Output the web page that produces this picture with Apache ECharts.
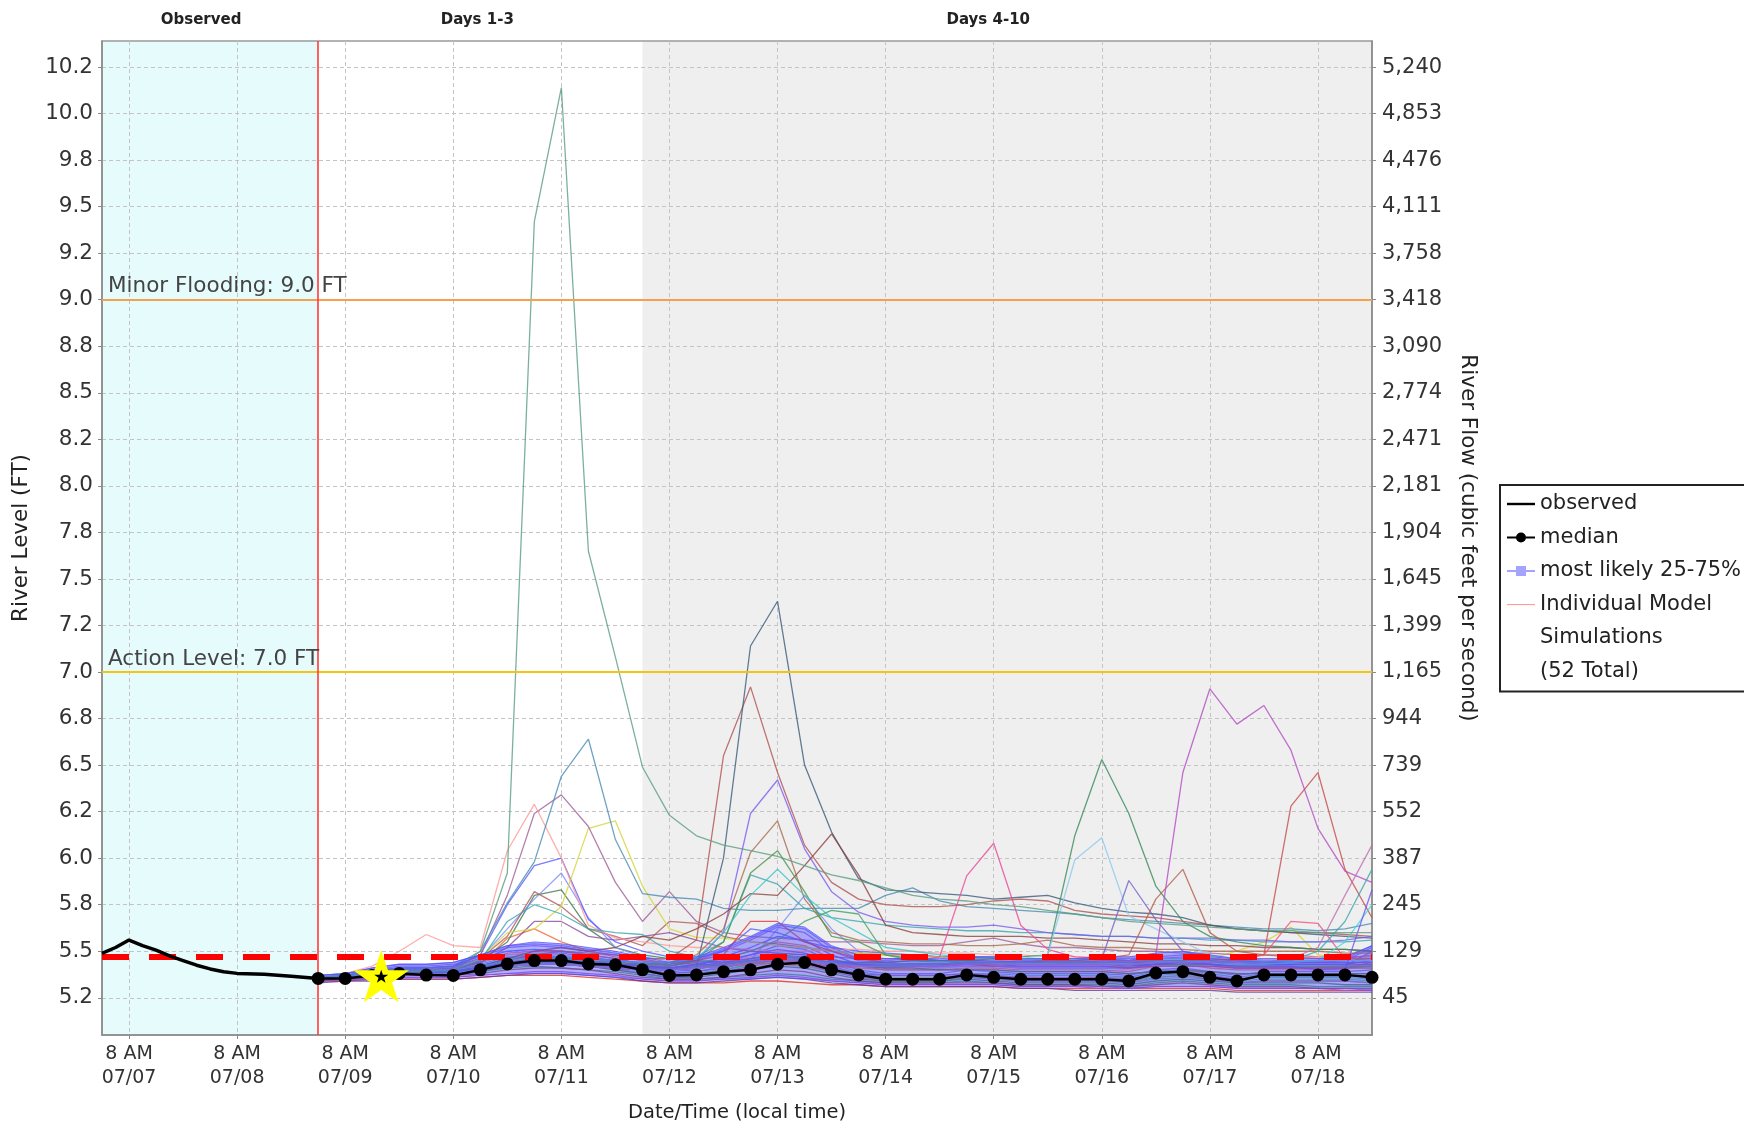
<!DOCTYPE html>
<html>
<head>
<meta charset="utf-8">
<title>River Level Ensemble Forecast</title>
<script src="https://cdn.jsdelivr.net/npm/echarts@6/dist/echarts.min.js"></script>
<style>
  html, body { margin: 0; padding: 0; background: #fff; }
  #main { width: 1744px; height: 1127px; }
</style>
</head>
<body>
<div id="main"></div>
<script>
// x values are hours since 07/07 00:00 local time
var xMin = 2, xMax = 284;
var xTicks = [8, 32, 56, 80, 104, 128, 152, 176, 200, 224, 248, 272];
var xTickLabels = ['8 AM\n07/07', '8 AM\n07/08', '8 AM\n07/09', '8 AM\n07/10', '8 AM\n07/11', '8 AM\n07/12',
                   '8 AM\n07/13', '8 AM\n07/14', '8 AM\n07/15', '8 AM\n07/16', '8 AM\n07/17', '8 AM\n07/18'];

// stage ticks (FT) and the matching flow labels (cfs) on the right
var yMin = 5.05, yMax = 10.39;
var levelTicks = [5.25, 5.5, 5.75, 6, 6.25, 6.5, 6.75, 7, 7.25, 7.5, 7.75, 8, 8.25, 8.5, 8.75, 9, 9.25, 9.5, 9.75, 10, 10.25];
var levelTickLabels = ['5.2', '5.5', '5.8', '6.0', '6.2', '6.5', '6.8', '7.0', '7.2', '7.5', '7.8', '8.0', '8.2', '8.5', '8.8', '9.0', '9.2', '9.5', '9.8', '10.0', '10.2'];
var flowTickLabels = ['45', '129', '245', '387', '552', '739', '944', '1,165', '1,399', '1,645', '1,904', '2,181', '2,471', '2,774', '3,090', '3,418', '3,758', '4,111', '4,476', '4,853', '5,240'];

// shaded periods
var regionStarts = [2, 50, 122];
var regionEnds = [50, 122, 284];
var regionLabels = ['Observed', 'Days 1-3', 'Days 4-10'];

var floodLevel = 9.0, actionLevel = 7.0, thresholdLevel = 5.468, forecastStart = 50;
var starPoint = [64, 5.365];

// observed stage
var obsHours = [2, 5, 8, 11, 14, 17, 20, 23, 26, 29, 32, 38, 44, 50];
var obsLevel = [5.488, 5.52, 5.56, 5.53, 5.506, 5.475, 5.45, 5.425, 5.405, 5.39, 5.381, 5.376, 5.366, 5.354];

// forecast times, 6-hourly from 07/09 02:00 to 07/18 20:00
var fcHours = [50, 56, 62, 68, 74, 80, 86, 92, 98, 104, 110, 116, 122, 128, 134, 140, 146, 152, 158, 164,
               170, 176, 182, 188, 194, 200, 206, 212, 218, 224, 230, 236, 242, 248, 254, 260, 266, 272, 278, 284];

var medianLevel = [5.354, 5.354, 5.37, 5.381, 5.372, 5.37, 5.40, 5.432, 5.45, 5.45,
                   5.432, 5.427, 5.40, 5.37, 5.373, 5.39, 5.40, 5.43, 5.44, 5.40,
                   5.373, 5.35, 5.35, 5.35, 5.373, 5.36, 5.35, 5.35, 5.35, 5.35,
                   5.34, 5.383, 5.39, 5.36, 5.34, 5.373, 5.373, 5.373, 5.373, 5.36];

var bandLow = [5.34, 5.35, 5.35, 5.36, 5.36, 5.36, 5.37, 5.38, 5.38, 5.38,
               5.37, 5.36, 5.35, 5.34, 5.34, 5.35, 5.35, 5.36, 5.35, 5.34,
               5.33, 5.32, 5.32, 5.32, 5.32, 5.32, 5.31, 5.31, 5.31, 5.31,
               5.30, 5.31, 5.31, 5.31, 5.30, 5.30, 5.30, 5.30, 5.30, 5.29];
var bandHigh = [5.37, 5.38, 5.41, 5.43, 5.43, 5.44, 5.48, 5.53, 5.55, 5.54,
                5.52, 5.50, 5.47, 5.44, 5.47, 5.52, 5.58, 5.65, 5.63, 5.53,
                5.48, 5.46, 5.46, 5.46, 5.47, 5.47, 5.46, 5.46, 5.46, 5.47,
                5.47, 5.49, 5.50, 5.48, 5.46, 5.46, 5.46, 5.46, 5.47, 5.53];

// individual model simulations (52)
var members = [
  // low members hugging the band
  [5.34,5.34,5.35,5.35,5.35,5.35,5.36,5.37,5.37,5.37, 5.36,5.35,5.34,5.33,5.33,5.33,5.34,5.34,5.33,5.32, 5.32,5.31,5.31,5.31,5.31,5.31,5.30,5.30,5.30,5.30, 5.30,5.30,5.30,5.30,5.29,5.29,5.29,5.29,5.29,5.29],
  [5.35,5.35,5.36,5.37,5.37,5.37,5.39,5.41,5.42,5.41, 5.40,5.39,5.37,5.35,5.35,5.36,5.37,5.38,5.37,5.35, 5.34,5.33,5.33,5.33,5.34,5.33,5.32,5.32,5.32,5.32, 5.31,5.33,5.34,5.33,5.32,5.32,5.32,5.31,5.31,5.31],
  [5.34,5.35,5.35,5.36,5.36,5.36,5.37,5.38,5.39,5.39, 5.38,5.37,5.35,5.34,5.34,5.35,5.36,5.37,5.36,5.34, 5.33,5.32,5.32,5.32,5.32,5.32,5.31,5.31,5.31,5.30, 5.30,5.31,5.31,5.31,5.30,5.30,5.30,5.30,5.29,5.29],
  [5.36,5.37,5.39,5.41,5.41,5.42,5.46,5.50,5.51,5.50, 5.48,5.46,5.43,5.40,5.42,5.47,5.52,5.58,5.56,5.48, 5.43,5.41,5.42,5.41,5.42,5.42,5.41,5.41,5.41,5.41, 5.41,5.43,5.44,5.43,5.41,5.41,5.41,5.41,5.42,5.50],
  [5.36,5.37,5.40,5.42,5.42,5.43,5.47,5.52,5.53,5.52, 5.50,5.48,5.45,5.42,5.45,5.50,5.56,5.63,5.60,5.50, 5.45,5.44,5.45,5.44,5.45,5.45,5.44,5.44,5.44,5.45, 5.45,5.46,5.47,5.46,5.45,5.44,5.44,5.44,5.45,5.52],
  [5.35,5.36,5.37,5.38,5.38,5.38,5.40,5.44,5.46,5.45, 5.42,5.40,5.38,5.36,5.37,5.39,5.41,5.43,5.42,5.39, 5.36,5.34,5.34,5.34,5.36,5.35,5.34,5.34,5.34,5.34, 5.33,5.36,5.37,5.35,5.33,5.34,5.34,5.34,5.34,5.33],
  [5.36,5.36,5.38,5.39,5.39,5.39,5.41,5.45,5.47,5.47, 5.45,5.43,5.40,5.37,5.38,5.40,5.43,5.46,5.45,5.41, 5.38,5.36,5.36,5.36,5.37,5.36,5.35,5.35,5.35,5.35, 5.34,5.37,5.38,5.36,5.35,5.36,5.36,5.36,5.36,5.35],
  [5.34,5.35,5.36,5.37,5.37,5.37,5.38,5.40,5.41,5.41, 5.40,5.38,5.36,5.35,5.35,5.36,5.38,5.40,5.39,5.36, 5.34,5.33,5.33,5.33,5.33,5.33,5.32,5.32,5.32,5.31, 5.31,5.32,5.33,5.32,5.31,5.31,5.31,5.30,5.30,5.30],
  [5.36,5.37,5.39,5.40,5.40,5.41,5.44,5.48,5.49,5.49, 5.47,5.45,5.42,5.39,5.40,5.44,5.48,5.53,5.51,5.45, 5.40,5.38,5.38,5.38,5.40,5.39,5.38,5.38,5.38,5.38, 5.37,5.40,5.41,5.39,5.37,5.39,5.39,5.39,5.39,5.40],
  [5.35,5.36,5.37,5.38,5.38,5.39,5.41,5.45,5.47,5.46, 5.44,5.42,5.39,5.37,5.38,5.40,5.43,5.46,5.44,5.40, 5.37,5.36,5.36,5.36,5.37,5.37,5.36,5.37,5.37,5.36, 5.36,5.38,5.39,5.38,5.36,5.37,5.37,5.37,5.37,5.37],
  [5.36,5.37,5.38,5.40,5.40,5.40,5.43,5.47,5.48,5.48, 5.46,5.44,5.41,5.38,5.39,5.42,5.46,5.49,5.48,5.43, 5.39,5.37,5.37,5.37,5.38,5.38,5.37,5.37,5.37,5.37, 5.36,5.39,5.40,5.38,5.36,5.38,5.38,5.38,5.38,5.38],
  [5.35,5.36,5.38,5.39,5.39,5.40,5.42,5.46,5.48,5.47, 5.45,5.43,5.40,5.38,5.39,5.41,5.44,5.48,5.46,5.42, 5.38,5.37,5.37,5.37,5.38,5.37,5.36,5.36,5.36,5.36, 5.35,5.38,5.39,5.37,5.35,5.37,5.37,5.37,5.37,5.36],
  [5.35,5.35,5.36,5.37,5.37,5.38,5.39,5.42,5.44,5.44, 5.42,5.40,5.38,5.36,5.36,5.38,5.40,5.42,5.41,5.38, 5.35,5.34,5.34,5.34,5.35,5.34,5.33,5.33,5.33,5.33, 5.32,5.34,5.35,5.34,5.33,5.33,5.33,5.33,5.32,5.32],
  [5.36,5.37,5.39,5.40,5.41,5.41,5.44,5.49,5.50,5.50, 5.48,5.46,5.43,5.41,5.43,5.46,5.50,5.55,5.53,5.46, 5.42,5.40,5.40,5.40,5.41,5.41,5.40,5.40,5.40,5.40, 5.39,5.42,5.43,5.41,5.40,5.40,5.40,5.40,5.41,5.44],
  [5.37,5.38,5.41,5.43,5.43,5.44,5.48,5.53,5.54,5.53, 5.51,5.49,5.46,5.43,5.46,5.51,5.57,5.64,5.62,5.52, 5.46,5.45,5.46,5.45,5.46,5.46,5.45,5.45,5.45,5.46, 5.46,5.47,5.48,5.47,5.46,5.45,5.45,5.45,5.46,5.53],
  [5.33,5.34,5.34,5.35,5.35,5.35,5.36,5.37,5.38,5.38, 5.37,5.36,5.34,5.33,5.33,5.34,5.35,5.36,5.35,5.33, 5.32,5.31,5.31,5.31,5.31,5.31,5.30,5.30,5.29,5.29, 5.29,5.29,5.29,5.29,5.28,5.28,5.28,5.28,5.28,5.28],
  [5.36,5.36,5.38,5.39,5.39,5.40,5.42,5.46,5.47,5.46, 5.44,5.42,5.39,5.37,5.38,5.40,5.43,5.45,5.44,5.40, 5.37,5.35,5.35,5.35,5.36,5.36,5.35,5.35,5.35,5.34, 5.34,5.36,5.37,5.36,5.34,5.35,5.35,5.35,5.35,5.34],
  [5.36,5.37,5.39,5.41,5.41,5.41,5.44,5.48,5.49,5.48, 5.46,5.45,5.43,5.41,5.42,5.44,5.47,5.50,5.49,5.45, 5.42,5.41,5.41,5.41,5.42,5.42,5.41,5.41,5.41,5.41, 5.40,5.42,5.43,5.42,5.41,5.41,5.41,5.41,5.42,5.43],
  [5.35,5.36,5.37,5.38,5.38,5.38,5.40,5.43,5.45,5.45, 5.43,5.41,5.38,5.36,5.37,5.39,5.42,5.44,5.43,5.39, 5.36,5.35,5.35,5.35,5.36,5.35,5.34,5.34,5.34,5.34, 5.33,5.35,5.36,5.35,5.33,5.34,5.34,5.34,5.34,5.33],
  // members with visible rises
  [5.35,5.36,5.37,5.38,5.38,5.39,5.43,5.57,5.62,5.55, 5.50,5.47,5.45,5.44,5.43,5.42,5.43,5.44,5.43,5.42, 5.41,5.40,5.40,5.40,5.40,5.40,5.39,5.39,5.39,5.39, 5.38,5.39,5.39,5.39,5.38,5.38,5.38,5.38,5.38,5.38],
  [5.36,5.37,5.38,5.39,5.39,5.40,5.45,5.55,5.80,5.83, 5.62,5.52,5.48,5.46,5.45,5.44,5.44,5.45,5.46,5.44, 5.42,5.41,5.41,5.40,5.40,5.40,5.39,5.39,5.39,5.39, 5.38,5.39,5.40,5.39,5.38,5.38,5.38,5.38,5.38,5.38],
  [5.35,5.36,5.38,5.40,5.40,5.41,5.46,5.62,5.78,5.92, 5.68,5.52,5.47,5.45,5.44,5.44,5.45,5.62,5.80,5.62, 5.50,5.42,5.42,5.42,5.42,5.42,5.41,5.41,5.41,5.41, 5.41,5.42,5.42,5.42,5.41,5.41,5.41,5.41,5.41,5.42],
  [5.35,5.36,5.38,5.39,5.39,5.40,5.44,5.52,5.66,5.66, 5.58,5.56,5.58,5.60,5.56,5.52,5.50,5.49,5.48,5.47, 5.46,5.46,5.46,5.45,5.45,5.45,5.44,5.44,5.44,5.44, 5.44,5.44,5.44,5.44,5.43,5.43,5.43,5.43,5.43,5.43],
  [5.36,5.37,5.38,5.39,5.40,5.40,5.46,5.58,5.82,5.74, 5.62,5.58,5.53,5.66,5.65,5.58,5.55,5.54,5.52,5.50, 5.49,5.48,5.48,5.47,5.47,5.47,5.46,5.46,5.46,5.46, 5.45,5.46,5.46,5.46,5.45,5.45,5.45,5.45,5.45,5.46],
  [5.36,5.37,5.39,5.41,5.41,5.42,5.48,5.75,5.96,6.00, 5.67,5.55,5.50,5.47,5.46,5.50,5.62,5.60,5.55,5.52, 5.50,5.49,5.48,5.47,5.47,5.46,5.46,5.45,5.45,5.45, 5.44,5.44,5.44,5.44,5.44,5.43,5.43,5.43,5.43,5.45],
  [5.35,5.36,5.38,5.39,5.40,5.40,5.46,5.60,5.62,5.74, 6.16,6.20,5.85,5.62,5.575,5.57,5.55,5.53,5.52,5.50, 5.49,5.48,5.47,5.47,5.46,5.46,5.46,5.45,5.45,5.45, 5.45,5.45,5.45,5.46,5.50,5.55,5.63,5.48,5.46,5.46],
  [5.36,5.37,5.38,5.40,5.40,5.41,5.48,5.80,6.24,6.34, 6.17,5.87,5.66,5.82,5.66,5.60,5.58,5.57,5.56,5.55, 5.55,5.54,5.53,5.53,5.55,5.57,5.54,5.52,5.52,5.51, 5.50,5.50,5.49,5.49,5.48,5.48,5.48,5.47,5.47,5.47],
  [5.36,5.38,5.42,5.50,5.59,5.53,5.52,6.04,6.29,6.00, 5.64,5.57,5.55,5.53,5.52,5.52,5.51,5.50,5.50,5.51, 5.51,5.50,5.50,5.49,5.49,5.48,5.48,5.47,5.47,5.47, 5.47,5.46,5.46,5.46,5.46,5.46,5.46,5.47,5.48,5.50],
  [5.37,5.38,5.40,5.41,5.41,5.42,5.50,5.76,5.98,6.44, 6.64,6.10,5.81,5.79,5.78,5.73,5.72,5.72,5.73,5.73, 5.73,5.80,5.84,5.77,5.74,5.73,5.72,5.71,5.70,5.68, 5.67,5.66,5.65,5.64,5.63,5.62,5.62,5.61,5.62,5.65],
  [5.36,5.37,5.38,5.40,5.40,5.40,5.45,5.66,5.75,5.70, 5.62,5.60,5.59,5.50,5.47,5.55,5.91,5.86,5.73,5.68, 5.66,5.64,5.63,5.62,5.61,5.61,5.60,5.60,5.59,5.58, 5.58,5.57,5.57,5.56,5.56,5.55,5.55,5.55,5.55,5.56],
  [5.35,5.36,5.37,5.38,5.38,5.39,5.42,5.45,5.48,5.50, 5.49,5.48,5.46,5.46,5.56,6.55,6.92,6.46,6.07,5.87, 5.78,5.75,5.74,5.74,5.75,5.77,5.78,5.77,5.72,5.70, 5.69,5.68,5.66,5.64,5.62,5.61,5.60,5.60,5.59,5.58],
  [5.35,5.36,5.37,5.38,5.38,5.38,5.40,5.42,5.43,5.43, 5.42,5.41,5.40,5.40,5.42,6.00,7.14,7.38,6.50,6.14, 5.89,5.83,5.82,5.81,5.80,5.78,5.79,5.80,5.76,5.73, 5.71,5.70,5.68,5.64,5.62,5.61,5.60,5.59,5.58,5.57],
  [5.35,5.36,5.37,5.38,5.39,5.39,5.41,5.44,5.46,5.47, 5.46,5.45,5.44,5.44,5.45,5.60,6.24,6.42,6.05,5.82, 5.71,5.66,5.64,5.63,5.63,5.64,5.62,5.60,5.59,5.58, 5.58,5.57,5.57,5.57,5.56,5.56,5.55,5.55,5.56,5.58],
  [5.35,5.36,5.37,5.38,5.38,5.39,5.41,5.43,5.44,5.45, 5.44,5.43,5.43,5.44,5.48,5.62,6.03,6.20,5.78,5.60, 5.56,5.55,5.54,5.54,5.53,5.53,5.54,5.56,5.53,5.52, 5.52,5.51,5.51,5.50,5.50,5.50,5.50,5.50,5.49,5.49],
  [5.35,5.36,5.37,5.38,5.39,5.39,5.42,5.46,5.50,5.52, 5.50,5.52,5.58,5.56,5.62,5.70,5.81,5.80,5.96,6.13, 5.91,5.64,5.60,5.59,5.58,5.58,5.58,5.57,5.57,5.56, 5.55,5.54,5.54,5.53,5.53,5.52,5.52,5.51,5.51,5.50],
  [5.35,5.36,5.37,5.38,5.38,5.39,5.41,5.44,5.46,5.46, 5.45,5.44,5.43,5.43,5.45,5.55,5.92,6.04,5.82,5.58, 5.55,5.48,5.46,5.45,5.45,5.44,5.44,5.44,5.43,5.43, 5.43,5.43,5.43,5.43,5.42,5.42,5.42,5.42,5.42,5.42],
  [5.36,5.37,5.38,5.39,5.39,5.40,5.42,5.45,5.47,5.47, 5.46,5.45,5.44,5.44,5.46,5.60,5.80,5.94,5.80,5.68, 5.60,5.52,5.50,5.48,5.47,5.47,5.46,5.46,5.46,5.46, 5.45,5.46,5.46,5.46,5.45,5.45,5.45,5.45,5.45,5.45],
  [5.35,5.36,5.37,5.38,5.38,5.38,5.40,5.43,5.45,5.45, 5.44,5.43,5.42,5.42,5.45,5.48,5.66,5.66,5.55,5.50, 5.46,5.44,5.43,5.43,5.43,5.42,5.42,5.42,5.42,5.42, 5.41,5.42,5.42,5.42,5.41,5.41,5.41,5.41,5.41,5.41],
  [5.35,5.36,5.37,5.38,5.38,5.39,5.41,5.43,5.45,5.45, 5.44,5.43,5.42,5.42,5.44,5.46,5.50,5.56,5.66,5.72, 5.70,5.48,5.45,5.44,5.44,5.44,5.43,5.43,5.43,5.43, 5.42,5.43,5.43,5.43,5.42,5.42,5.42,5.42,5.42,5.42],
  [5.35,5.36,5.37,5.38,5.38,5.38,5.40,5.42,5.43,5.43, 5.42,5.41,5.40,5.40,5.41,5.43,5.45,5.46,5.45,5.44, 5.44,5.44,5.45,5.47,5.905,6.08,5.64,5.51,5.47,5.46, 5.45,5.45,5.45,5.45,5.44,5.44,5.44,5.44,5.44,5.44],
  [5.35,5.36,5.37,5.38,5.38,5.39,5.41,5.43,5.44,5.44, 5.43,5.42,5.41,5.41,5.42,5.44,5.46,5.48,5.47,5.45, 5.44,5.44,5.45,5.45,5.45,5.46,5.47,5.48,6.12,6.53, 6.24,5.85,5.66,5.58,5.55,5.53,5.52,5.51,5.51,5.50],
  [5.35,5.36,5.37,5.38,5.38,5.38,5.40,5.42,5.43,5.43, 5.42,5.41,5.40,5.40,5.41,5.42,5.44,5.46,5.45,5.44, 5.43,5.43,5.44,5.44,5.44,5.45,5.46,5.48,5.99,6.11, 5.69,5.62,5.55,5.48,5.46,5.45,5.45,5.45,5.45,5.45],
  [5.35,5.36,5.37,5.38,5.38,5.39,5.41,5.43,5.44,5.44, 5.43,5.42,5.41,5.41,5.42,5.43,5.45,5.47,5.46,5.44, 5.43,5.43,5.43,5.43,5.44,5.44,5.44,5.45,5.45,5.46, 5.88,5.67,5.50,5.46,5.45,5.44,5.44,5.44,5.44,5.44],
  [5.34,5.35,5.36,5.37,5.37,5.38,5.40,5.42,5.43,5.43, 5.42,5.41,5.40,5.40,5.41,5.42,5.44,5.46,5.45,5.43, 5.42,5.42,5.43,5.43,5.44,5.44,5.44,5.45,5.45,5.46, 5.48,5.78,5.94,5.60,5.50,5.48,5.47,5.46,5.46,5.46],
  [5.35,5.36,5.37,5.38,5.38,5.39,5.41,5.43,5.44,5.44, 5.43,5.42,5.41,5.41,5.42,5.44,5.46,5.47,5.46,5.44, 5.43,5.43,5.43,5.43,5.44,5.44,5.44,5.44,5.44,5.45, 5.45,5.48,6.46,6.91,6.72,6.82,6.58,6.16,5.93,5.87],
  [5.35,5.36,5.37,5.38,5.38,5.38,5.40,5.42,5.43,5.43, 5.42,5.41,5.40,5.40,5.41,5.43,5.45,5.46,5.45,5.43, 5.42,5.42,5.43,5.43,5.43,5.44,5.44,5.44,5.44,5.44, 5.44,5.45,5.45,5.45,5.46,5.48,6.28,6.46,5.94,5.68],
  [5.35,5.36,5.37,5.38,5.38,5.38,5.40,5.42,5.43,5.43, 5.42,5.41,5.40,5.40,5.41,5.42,5.44,5.45,5.44,5.42, 5.42,5.42,5.42,5.42,5.43,5.43,5.43,5.43,5.43,5.43, 5.43,5.44,5.44,5.44,5.45,5.48,5.66,5.65,5.46,5.48],
  [5.35,5.36,5.37,5.38,5.38,5.39,5.41,5.43,5.44,5.44, 5.43,5.42,5.41,5.41,5.42,5.43,5.45,5.47,5.46,5.44, 5.43,5.43,5.43,5.43,5.44,5.44,5.44,5.44,5.44,5.44, 5.44,5.45,5.45,5.45,5.44,5.44,5.45,5.50,5.66,5.94],
  [5.35,5.36,5.37,5.38,5.38,5.38,5.40,5.42,5.43,5.43, 5.42,5.41,5.40,5.40,5.41,5.42,5.44,5.46,5.45,5.43, 5.42,5.42,5.42,5.42,5.43,5.43,5.43,5.43,5.43,5.43, 5.43,5.44,5.44,5.44,5.43,5.43,5.44,5.45,5.55,5.75],
  [5.35,5.36,5.37,5.38,5.38,5.39,5.41,5.44,5.45,5.45, 5.44,5.43,5.42,5.41,5.43,5.45,5.48,5.51,5.49,5.45, 5.43,5.42,5.42,5.42,5.43,5.43,5.42,5.42,5.42,5.42, 5.42,5.43,5.44,5.43,5.42,5.42,5.42,5.40,5.40,5.83],
  [5.35,5.36,5.37,5.38,5.38,5.38,5.40,5.42,5.43,5.43, 5.42,5.41,5.40,5.40,5.41,5.42,5.44,5.46,5.45,5.43, 5.42,5.42,5.42,5.42,5.43,5.43,5.43,5.43,5.43,5.43, 5.43,5.44,5.44,5.44,5.44,5.44,5.46,5.52,5.80,6.07],
  [5.36,5.37,5.39,5.40,5.39,5.39,5.50,5.92,9.42,10.14, 7.65,7.08,6.49,6.23,6.12,6.07,6.04,6.01,5.96,5.91, 5.88,5.84,5.80,5.78,5.77,5.75,5.74,5.72,5.70,5.68, 5.66,5.65,5.64,5.63,5.62,5.61,5.61,5.60,5.60,5.60]
];
var memberColors = [
  '#e03030', '#30a050', '#c040c0', '#5050ff', '#9060f0', '#f08030', '#40b0b0', '#a04040', '#6a6ad0', '#d0d040',
  '#50a0e0', '#b050b0', '#3c7c3c', '#e06060', '#7070ff', '#5c3ca0', '#40c080', '#f0a0a0', '#8080c0',
  '#f06a3a', '#3e7a52', '#7a8cff', '#8c4ca0', '#b05a5a', '#5a5aff', '#d4d43c', '#a0609a', '#ff9a9a', '#4a8cb4',
  '#3aa8b0', '#b05454', '#3c5c7c', '#7c5cf2', '#a86a50', '#8c4444', '#4e944e', '#3cc4cc', '#e03a3a', '#44a064',
  '#e8489a', '#3a8a5c', '#8ccaf0', '#7462c8', '#b4604e', '#b44cc4', '#c44c4c', '#f0507a', '#40a4b4', '#44d4d4',
  '#7050f0', '#c070b0', '#5a9e7e'
];

var regionFill = ['#e6fbfb', 'rgba(255,255,255,0)', '#efefef'];
var regionLabelShift = [-9, -3, -19];

function pairs(xs, ys) {
  var out = [];
  for (var i = 0; i < xs.length; i++) out.push([xs[i], ys[i]]);
  return out;
}

var FONT = 'DejaVu Sans';
var chart = echarts.init(document.getElementById('main'));

var series = [];

// shaded periods behind everything
series.push({
  type: 'custom',
  name: 'periods',
  z: -1,
  silent: true,
  clip: false,
  data: regionStarts.map(function (s, i) { return [s, regionEnds[i], i]; }),
  encode: { x: [0, 1] },
  renderItem: function (params, api) {
    var cs = params.coordSys;
    var x0 = api.coord([api.value(0), yMin])[0];
    var x1 = api.coord([api.value(1), yMin])[0];
    var i = api.value(2);
    return {
      type: 'group',
      children: [
        { type: 'rect', shape: { x: x0, y: cs.y, width: x1 - x0, height: cs.height }, style: { fill: regionFill[i] } },
        { type: 'text', x: (x0 + x1) / 2 + regionLabelShift[i], y: cs.y - 21,
          style: { text: regionLabels[i], fill: '#222', font: 'bold 15px "DejaVu Sans"', align: 'center', verticalAlign: 'middle' } }
      ]
    };
  }
});

members.forEach(function (vals, i) {
  series.push({
    type: 'line',
    name: 'member ' + (i + 1),
    data: pairs(fcHours, vals),
    symbol: 'none',
    silent: true,
    z: 2,
    lineStyle: { width: 1.3, color: memberColors[i], opacity: 0.8 }
  });
});

// 25-75% band drawn as one polygon through the axes
series.push({
  type: 'custom', name: 'most likely 25-75%', z: 3, silent: true,
  color: 'rgba(85,85,255,0.5)',
  data: [[fcHours[0], bandLow[0]]],
  encode: { x: 0, y: 1 },
  renderItem: function (params, api) {
    var top = [], bottom = [];
    for (var i = 0; i < fcHours.length; i++) {
      top.push(api.coord([fcHours[i], bandHigh[i]]));
      bottom.push(api.coord([fcHours[i], bandLow[i]]));
    }
    var poly = top.concat(bottom.slice().reverse());
    return {
      type: 'group',
      children: [
        { type: 'polygon', shape: { points: poly }, style: { fill: 'rgba(80,80,255,0.45)' } },
        { type: 'polyline', shape: { points: top }, style: { stroke: 'rgba(80,80,255,0.75)', lineWidth: 1, fill: null } },
        { type: 'polyline', shape: { points: bottom }, style: { stroke: 'rgba(80,80,255,0.6)', lineWidth: 1, fill: null } }
      ]
    };
  }
});

series.push({
  type: 'line', name: 'Individual Model', data: [], color: '#ff9a9a', symbol: 'none'
});
series.push({ type: 'line', name: 'Simulations', data: [], color: '#fff', symbol: 'none' });
series.push({ type: 'line', name: '(52 Total)', data: [], color: '#fff', symbol: 'none' });

series.push({
  type: 'line', name: 'median', z: 7, silent: true,
  data: pairs(fcHours, medianLevel),
  color: '#000',
  symbol: 'circle', symbolSize: 13,
  lineStyle: { width: 2.5, color: '#000' },
  itemStyle: { color: '#000' }
});

series.push({
  type: 'line', name: 'observed', z: 7, silent: true,
  data: pairs(obsHours, obsLevel),
  color: '#000',
  symbol: 'none',
  lineStyle: { width: 3.5, color: '#000' },
  markLine: {
    silent: true,
    symbol: 'none',
    animation: false,
    data: [
      { yAxis: floodLevel, lineStyle: { color: '#f5a04a', width: 2, type: 'solid' },
        label: { show: true, position: 'insideStartTop', formatter: 'Minor Flooding: 9.0 FT', distance: [6, 2],
                 color: '#444', fontSize: 21.5, fontFamily: FONT } },
      { yAxis: actionLevel, lineStyle: { color: '#f2c414', width: 2, type: 'solid' },
        label: { show: true, position: 'insideStartTop', formatter: 'Action Level: 7.0 FT', distance: [6, 2],
                 color: '#444', fontSize: 21.5, fontFamily: FONT } },
      { xAxis: forecastStart, lineStyle: { color: '#ff3b3b', width: 1.6, type: 'solid' }, label: { show: false } },
      { yAxis: thresholdLevel, lineStyle: { color: '#ff0000', width: 6, type: [27, 20] }, label: { show: false } }
    ]
  }
});

var starPath = 'path://M50,0L61.8,35.3L98.9,35.3L68.8,57.1L80.3,92.7L50,70.8L19.7,92.7L31.2,57.1L1.1,35.3L38.2,35.3Z';
series.push({
  type: 'scatter', name: 'star', z: 8, silent: true,
  data: [starPoint], symbol: starPath, symbolSize: [56, 52],
  itemStyle: { color: '#ffff00', opacity: 1 }
});
series.push({
  type: 'scatter', name: 'star core', z: 9, silent: true,
  data: [starPoint], symbol: starPath, symbolSize: [14, 13],
  itemStyle: { color: '#000', opacity: 1 }
});

var option = {
  animation: false,
  backgroundColor: '#fff',
  textStyle: { fontFamily: FONT },
  grid: {
    left: 102, right: 372, top: 41, bottom: 92,
    show: true, borderColor: '#9a9a9a', borderWidth: 1.5, backgroundColor: 'rgba(0,0,0,0)',
    containLabel: false, outerBoundsMode: 'none'
  },
  legend: {
    orient: 'vertical', left: 1500, top: 485,
    padding: [3, 60, 4, 7],
    itemGap: 1.5, itemWidth: 28, itemHeight: 14,
    borderColor: '#222', borderWidth: 2, backgroundColor: '#fff',
    selectedMode: false,
    textStyle: { fontSize: 21, lineHeight: 32, color: '#222', fontFamily: FONT },
    data: [
      { name: 'observed', icon: 'path://M0,0M28,14M0,5.8L28,5.8L28,8.2L0,8.2Z', itemStyle: { color: '#000', borderWidth: 0 } },
      { name: 'median', icon: 'path://M0,0M28,14M0,6L28,6L28,8L0,8ZM9,7A5,5,0,1,1,19,7A5,5,0,1,1,9,7Z', itemStyle: { color: '#000', borderWidth: 0 } },
      { name: 'most likely 25-75%', icon: 'path://M0,0M28,14M0,6L28,6L28,8L0,8ZM9,2L19,2L19,12L9,12Z', itemStyle: { color: 'rgba(90,90,255,0.55)', borderWidth: 0 } },
      { name: 'Individual Model', icon: 'path://M0,0M28,14M0,6.5L28,6.5L28,7.6L0,7.6Z', itemStyle: { color: '#ff9a9a', borderWidth: 0 } },
      { name: 'Simulations', icon: 'none' },
      { name: '(52 Total)', icon: 'none' }
    ]
  },
  xAxis: {
    type: 'value', min: xMin, max: xMax,
    name: 'Date/Time (local time)', nameLocation: 'middle', nameGap: 68, nameMoveOverlap: false,
    nameTextStyle: { fontSize: 19.5, color: '#222', fontFamily: FONT },
    axisLine: { show: true, lineStyle: { color: '#8a8a8a', width: 1.5 } },
    axisTick: { show: true, customValues: xTicks, length: 4, lineStyle: { color: '#8a8a8a' } },
    axisLabel: {
      customValues: xTicks, margin: 7, fontSize: 19, lineHeight: 24, color: '#333', fontFamily: FONT,
      formatter: function (v) { var i = xTicks.indexOf(Math.round(v)); return i >= 0 ? xTickLabels[i] : ''; }
    },
    splitLine: { show: true, lineStyle: { color: '#c4c4c4', width: 1, type: [4, 3] } }
  },
  yAxis: [
    {
      type: 'value', position: 'left', min: yMin, max: yMax,
      name: 'River Level (FT)', nameLocation: 'middle', nameGap: 70, nameMoveOverlap: false,
      nameTextStyle: { fontSize: 21.5, color: '#222', fontFamily: FONT },
      axisLine: { show: true, lineStyle: { color: '#8a8a8a', width: 1.5 } },
      axisTick: { show: true, customValues: levelTicks, length: 4, lineStyle: { color: '#8a8a8a' } },
      axisLabel: {
        customValues: levelTicks, margin: 9, fontSize: 21.5, color: '#333', fontFamily: FONT,
        formatter: function (v) { var i = levelTicks.indexOf(Math.round(v * 100) / 100); return i >= 0 ? levelTickLabels[i] : ''; }
      },
      splitLine: { show: true, lineStyle: { color: '#c4c4c4', width: 1, type: [4, 3] } }
    },
    {
      type: 'value', position: 'right', min: yMin, max: yMax,
      name: 'River Flow (cubic feet per second)', nameLocation: 'middle', nameGap: 85, nameRotate: -90, nameMoveOverlap: false,
      nameTextStyle: { fontSize: 21.5, color: '#222', fontFamily: FONT },
      axisLine: { show: true, lineStyle: { color: '#8a8a8a', width: 1.5 } },
      axisTick: { show: true, customValues: levelTicks, length: 4, lineStyle: { color: '#8a8a8a' } },
      axisLabel: {
        customValues: levelTicks, margin: 10, fontSize: 21, color: '#333', fontFamily: FONT,
        formatter: function (v) { var i = levelTicks.indexOf(Math.round(v * 100) / 100); return i >= 0 ? flowTickLabels[i] : ''; }
      },
      splitLine: { show: false }
    }
  ],
  series: series
};

chart.setOption(option);
</script>
</body>
</html>
